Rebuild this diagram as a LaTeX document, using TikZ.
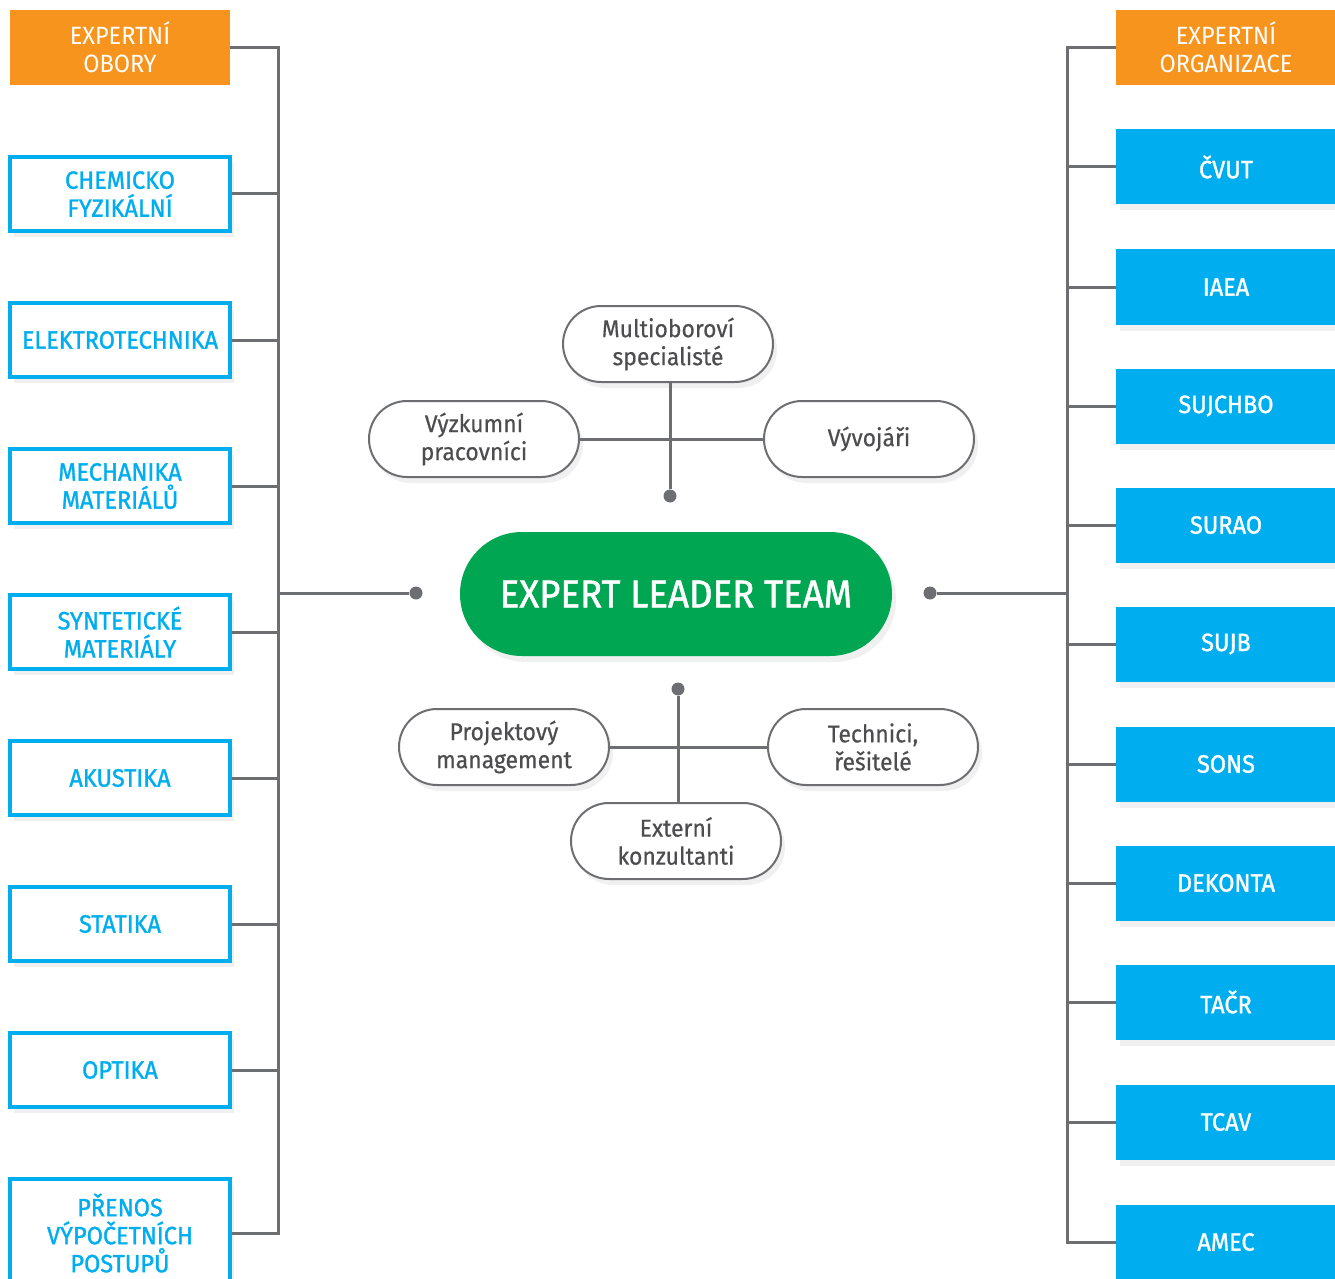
\documentclass[tikz,border=0pt]{standalone}
\usepackage{fontspec}
\setmainfont{Fira Sans}[FakeStretch=0.94]
\newfontfamily\medfont{Fira Sans}[FakeStretch=0.94,FakeBold=1.2]
\newfontfamily\semifont{Fira Sans}[FakeStretch=0.94,FakeBold=0.5]
\usetikzlibrary{shapes.misc,shadows}
\definecolor{orng}{HTML}{F7941D}
\definecolor{blu}{HTML}{00AEEF}
\definecolor{grn}{HTML}{00A651}
\definecolor{gry}{HTML}{6D6E71}
\definecolor{txtgry}{HTML}{4D4D4F}

\begin{document}
\begin{tikzpicture}
        [
        x=0.5pt,y=-0.5pt,
        head/.style={fill=orng,text=white,minimum width=110pt,minimum height=37.5pt,inner sep=0pt,align=center,font=\fontsize{12.5}{14}\selectfont},
        obor/.style={draw=blu,line width=2pt,fill=white,text=blu,minimum width=110pt,minimum height=37pt,inner sep=0pt,align=center,font=\medfont\fontsize{12.5}{14}\selectfont,drop shadow={opacity=0.12,shadow xshift=2pt,shadow yshift=-3pt}},
        org/.style={fill=blu,text=white,minimum width=110pt,minimum height=37.5pt,inner sep=0pt,align=center,font=\medfont\fontsize{12.5}{14}\selectfont,drop shadow={opacity=0.12,shadow xshift=2pt,shadow yshift=-3pt}},
        role/.style={rounded rectangle,draw=gry,line width=1pt,fill=white,text=txtgry,minimum width=105pt,minimum height=38pt,inner sep=0pt,align=center,font=\semifont\fontsize{12.2}{14}\selectfont,drop shadow={opacity=0.12,shadow xshift=2pt,shadow yshift=-3pt}},
        lead/.style={rounded rectangle,fill=grn,text=white,minimum width=216pt,minimum height=62pt,inner sep=0pt,font=\medfont\fontsize{19.5}{22}\selectfont,drop shadow={opacity=0.12,shadow xshift=2pt,shadow yshift=-3pt}},
        link/.style={draw=gry,line width=1.5pt},
        dot/.style={circle,fill=gry,inner sep=0pt,minimum size=6.5pt}
        ]
    \useasboundingbox (0,0) rectangle (1335,1279);

    % left column
    \node[head] (obory) at (120,47.5) {EXPERTNÍ\\OBORY};
    \node[obor] (chem) at (120,194) {CHEMICKO\\FYZIKÁLNÍ};
    \node[obor] (elek) at (120,340) {ELEKTROTECHNIKA};
    \node[obor] (mech) at (120,486) {MECHANIKA\\MATERIÁLŮ};
    \node[obor] (synt) at (120,632) {SYNTETICKÉ\\MATERIÁLY};
    \node[obor] (akus) at (120,778) {AKUSTIKA};
    \node[obor] (stat) at (120,924) {STATIKA};
    \node[obor] (opti) at (120,1070) {OPTIKA};
    \node[obor,minimum height=54pt] (pren) at (120,1233) {PŘENOS\\VÝPOČETNÍCH\\POSTUPŮ};

    % right column
    \node[head] (organ) at (1226,47.5) {EXPERTNÍ\\ORGANIZACE};
    \node[org] (cvut) at (1226,167) {ČVUT};
    \node[org] (iaea) at (1226,287) {IAEA};
    \node[org] (sujc) at (1226,406) {SUJCHBO};
    \node[org] (sura) at (1226,525) {SURAO};
    \node[org] (sujb) at (1226,644) {SUJB};
    \node[org] (sons) at (1226,764) {SONS};
    \node[org] (deko) at (1226,883) {DEKONTA};
    \node[org] (tacr) at (1226,1002) {TAČR};
    \node[org] (tcav) at (1226,1122) {TCAV};
    \node[org] (amec) at (1226,1242) {AMEC};

    % center
    \node[lead] (elt) at (676,594) {EXPERT LEADER TEAM};
    \node[dot] (dl) at (416,593) {};
    \node[dot] (dr) at (930,593) {};
    \node[dot] (dt) at (670,496) {};
    \node[dot] (db) at (678,689) {};

    \node[role] (multi) at (668,344) {Multioboroví\\specialisté};
    \node[role] (vyzk) at (474,439) {Výzkumní\\pracovníci};
    \node[role] (vyvo) at (869,439) {Vývojáři};
    \node[role] (proj) at (504,747) {Projektový\\management};
    \node[role] (tech) at (873,747) {Technici,\\řešitelé};
    \node[role] (exte) at (676,841) {Externí\\konzultanti};

    \coordinate (railL) at (278,0);
    \coordinate (railR) at (1067,0);

    % left rail
    \draw[link] (obory.east) -| (pren.east -| railL) -- (pren.east);
    \draw[link] (chem.east) -- (chem.east -| railL);
    \draw[link] (elek.east) -- (elek.east -| railL);
    \draw[link] (mech.east) -- (mech.east -| railL);
    \draw[link] (synt.east) -- (synt.east -| railL);
    \draw[link] (akus.east) -- (akus.east -| railL);
    \draw[link] (stat.east) -- (stat.east -| railL);
    \draw[link] (opti.east) -- (opti.east -| railL);
    \draw[link] (dl) -- (dl -| railL);

    % right rail
    \draw[link] (organ.west) -| (amec.west -| railR) -- (amec.west);
    \draw[link] (cvut.west) -- (cvut.west -| railR);
    \draw[link] (iaea.west) -- (iaea.west -| railR);
    \draw[link] (sujc.west) -- (sujc.west -| railR);
    \draw[link] (sura.west) -- (sura.west -| railR);
    \draw[link] (sujb.west) -- (sujb.west -| railR);
    \draw[link] (sons.west) -- (sons.west -| railR);
    \draw[link] (deko.west) -- (deko.west -| railR);
    \draw[link] (tacr.west) -- (tacr.west -| railR);
    \draw[link] (tcav.west) -- (tcav.west -| railR);
    \draw[link] (dr) -- (dr -| railR);

    % role links
    \draw[link] (dt) -- (dt |- multi.south);
    \draw[link] (vyzk.east) -- (vyvo.west);
    \draw[link] (db) -- (db |- exte.north);
    \draw[link] (proj.east) -- (tech.west);
    \end{tikzpicture}
\end{document}
